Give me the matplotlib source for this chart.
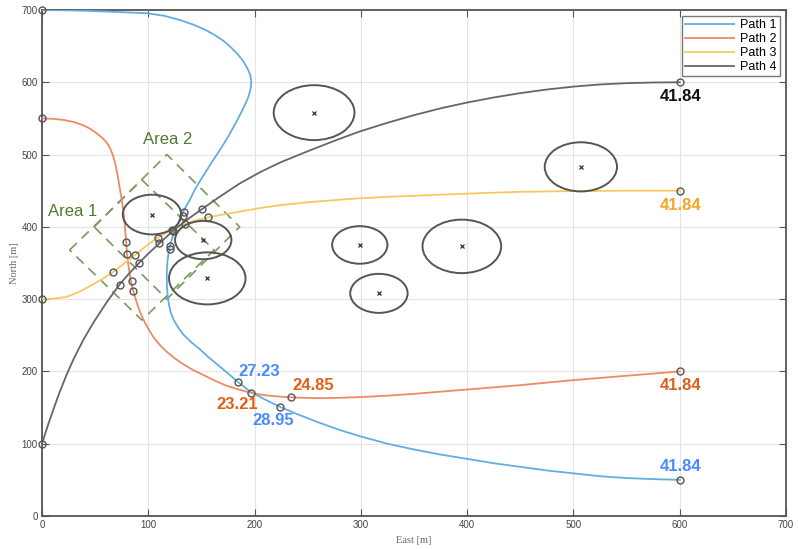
import matplotlib
matplotlib.use("Agg")
import matplotlib.pyplot as plt
from matplotlib.patches import Circle

# ---------------- data ----------------
p1_x = [0, 25, 50, 75, 99, 115, 130, 142, 153, 163, 171, 178, 184, 189, 193, 195.5, 196.8, 196.8, 195.8, 194, 191, 187, 182, 176, 169, 160, 151, 144, 139, 135, 132.6, 129, 126, 123, 121, 119.2, 118, 117.5, 117.4, 117.6, 118.3, 119.5, 121, 124, 128, 133, 140, 149, 158, 167.5, 176, 184.7, 196, 210, 224, 240, 261, 280, 300, 325, 350, 375, 400, 425, 450, 475, 500, 525, 550, 575, 600]
p1_y = [700, 699.5, 698.5, 697, 695.5, 692, 686, 680, 673, 665, 657, 648, 639, 630, 620, 612, 604, 596, 588, 579, 569, 557, 543, 527, 510, 490, 469, 452, 437, 427, 420, 409, 398, 387, 377, 365, 352, 340, 328, 316, 304, 292, 282, 271, 261, 251, 241, 230, 218, 206.5, 196, 185, 172, 161, 151, 141, 129, 119, 110, 100, 92, 85, 79, 73, 68, 63, 59, 55, 52.5, 51, 50]

p2_x = [0, 10, 20, 30, 38, 45, 51, 56, 60.8, 64, 66.5, 68.5, 70, 71.5, 73, 74.5, 76, 77.2, 78, 78.7, 79.3, 80, 81, 82.2, 83.5, 85, 86.5, 89, 92, 96, 100, 104.6, 110, 116, 124, 133, 142, 152, 163, 174, 185, 196.3, 210, 225, 240, 261.5, 280, 300, 325, 350, 375, 400, 425, 450, 475, 500, 525, 550, 575, 600]
p2_y = [550, 549.5, 548, 545, 541, 536, 530, 524, 517, 509, 500, 490, 480, 468, 455, 442, 428, 414, 400, 388, 376, 362, 350, 338, 326, 316, 308, 296, 283, 270, 259, 248, 238, 229, 219, 210, 202, 195, 187, 180, 175, 170.5, 167, 165, 163.8, 163, 163.5, 164.5, 166.5, 169, 172, 175, 178, 181, 184.5, 188, 191, 194, 197, 200]

p3_x = [0, 10, 23, 35, 45, 56, 66.5, 77, 87.5, 98, 108.8, 116, 122, 128, 134.8, 145, 156, 170, 186, 205, 224, 250, 275, 299, 325, 350, 375, 400, 450, 500, 550, 600]
p3_y = [300, 300.5, 303, 310, 318, 327, 337, 349, 361, 373.5, 385, 391, 395.6, 400, 404, 409, 413, 417, 421, 426, 430, 434, 437, 439.5, 441.5, 443, 444.5, 446, 448.5, 449.5, 450, 450]

p4_x = [0, 3, 6, 10.6, 16, 23, 30, 39, 49, 61, 73.4, 82, 91.6, 100, 110.4, 117, 123, 130, 138, 151, 165, 186, 205, 224, 249, 275, 299, 325, 350, 375, 400, 425, 450, 475, 500, 525, 550, 575, 600]
p4_y = [100, 114, 127.5, 147, 169, 195, 218, 244, 269, 296, 321, 335.5, 350.5, 363, 377, 386, 394, 402.5, 411.5, 425, 439.5, 460, 475.5, 489, 504, 519, 532, 544, 554.5, 564, 572, 579, 585, 590, 594, 597, 598.8, 599.7, 600]

paths = [(p1_x, p1_y), (p2_x, p2_y), (p3_x, p3_y), (p4_x, p4_y)]
path_names = ["Path 1", "Path 2", "Path 3", "Path 4"]

# waypoint markers on each path
m1_x = [0, 120.4, 120.4, 132.5, 133.5, 184.7, 224, 600]
m1_y = [700, 369, 374, 415, 421, 185, 151, 50]
m2_x = [0, 78.7, 79.7, 84.4, 85.9, 196.3, 234, 600]
m2_y = [550, 378.5, 362.4, 325.5, 311.2, 170.5, 164, 200]
m3_x = [0, 66.5, 87.5, 108.8, 122, 134.8, 156, 600]
m3_y = [300, 337, 361, 385, 395.6, 404, 413, 450]
m4_x = [0, 73.4, 91.6, 110.4, 123, 150.8, 600]
m4_y = [100, 320, 350, 377, 394.5, 425, 600]
markers = [(m1_x, m1_y), (m2_x, m2_y), (m3_x, m3_y), (m4_x, m4_y)]

# obstacles (center x, center y, radius)
obs_x = [256, 103.5, 151.7, 155.5, 299, 317, 395, 507]
obs_y = [558, 417, 381.7, 328.7, 375, 308, 373, 483]
obs_r = [38, 27.5, 26.5, 36, 26, 27, 37, 34]

# areas (dashed diamonds)
area1_x = [26, 94, 162, 94, 26]
area1_y = [368, 465, 368, 271, 368]
area2_x = [49, 117.5, 186, 117.5, 49]
area2_y = [400, 500, 400, 300, 400]
area_labels = ["Area 1", "Area 2"]
area_label_x = [29, 118.5]
area_label_y = [421, 521]

# value annotations
ann_text = ["27.23", "23.21", "28.95", "24.85", "41.84", "41.84", "41.84", "41.84"]
ann_x = [204, 183.7, 217.6, 255, 601, 601, 601, 601]
ann_y = [199.6, 154.5, 131.8, 181, 580, 430, 180, 69]
ann_col = ["#4a8cff", "#e0601a", "#4a8cff", "#e0601a", "#111111", "#f5a623", "#e0601a", "#4a8cff"]

xticks = [0, 100, 200, 300, 400, 500, 600, 700]
yticks = [0, 100, 200, 300, 400, 500, 600, 700]

# ---------------- style ----------------
line_cols = ["#62aee0", "#ee8a66", "#f8c860", "#666666"]

fig = plt.figure(figsize=(7.98, 5.49), dpi=100)
ax = fig.add_axes([42/798, 33/549, 744/798, 506/549])

for (x, y), c, n in zip(paths, line_cols, path_names):
    ax.plot(x, y, color=c, lw=1.3, label=n, zorder=3, solid_joinstyle='round')

for x, y in markers:
    ax.plot(x, y, 'o', ms=5, mfc='none', mec='#555555', mew=1.0, zorder=5, clip_on=False)

for cx, cy, r in zip(obs_x, obs_y, obs_r):
    ax.add_patch(Circle((cx, cy), r, fill=False, ec='#555555', lw=1.4, zorder=4))
ax.plot(obs_x, obs_y, 'x', ms=3.5, color='#333333', mew=0.9, zorder=4, ls='none')

for ax_, ay_ in [(area1_x, area1_y), (area2_x, area2_y)]:
    ax.plot(ax_, ay_, color='#7a9a5a', lw=1.2, dashes=(6, 4), zorder=2)
for t, x, y in zip(area_labels, area_label_x, area_label_y):
    ax.text(x, y, t, color='#4f7a2a', fontsize=12, family='Liberation Sans',
            ha='center', va='center', zorder=6)

for t, x, y, c in zip(ann_text, ann_x, ann_y, ann_col):
    ax.text(x, y, t, color=c, fontsize=12, fontweight='bold', family='Liberation Sans',
            ha='center', va='center', zorder=6)

ax.set_xlim(0, 700)
ax.set_ylim(0, 700)
ax.set_xticks(xticks)
ax.set_yticks(yticks)
ax.grid(True, color='#e4e4e4', lw=0.8, zorder=0)
ax.set_axisbelow(True)
ax.tick_params(direction='in', length=5, width=0.8, colors='#555555', labelsize=7,
               top=True, right=True, pad=3)
for lab in ax.get_xticklabels() + ax.get_yticklabels():
    lab.set_family('Liberation Sans')
    lab.set_color('#444444')
for s in ax.spines.values():
    s.set_color('#555555')
    s.set_linewidth(1.3)

ax.set_xlabel('East [m]', family='Liberation Serif', fontsize=7.5, color='#666666', labelpad=4)
ax.set_ylabel('North [m]', family='Liberation Serif', fontsize=7.5, color='#666666', labelpad=2)

leg = ax.legend(loc='upper right', handlelength=3.9, frameon=True, fancybox=False,
                borderaxespad=0.5, labelspacing=0.15, handletextpad=0.5, borderpad=0.25,
                prop={'family': 'Liberation Sans', 'size': 9})
leg.get_frame().set_edgecolor('#555555')
leg.get_frame().set_linewidth(1.0)

fig.savefig('out.png', dpi=100)
